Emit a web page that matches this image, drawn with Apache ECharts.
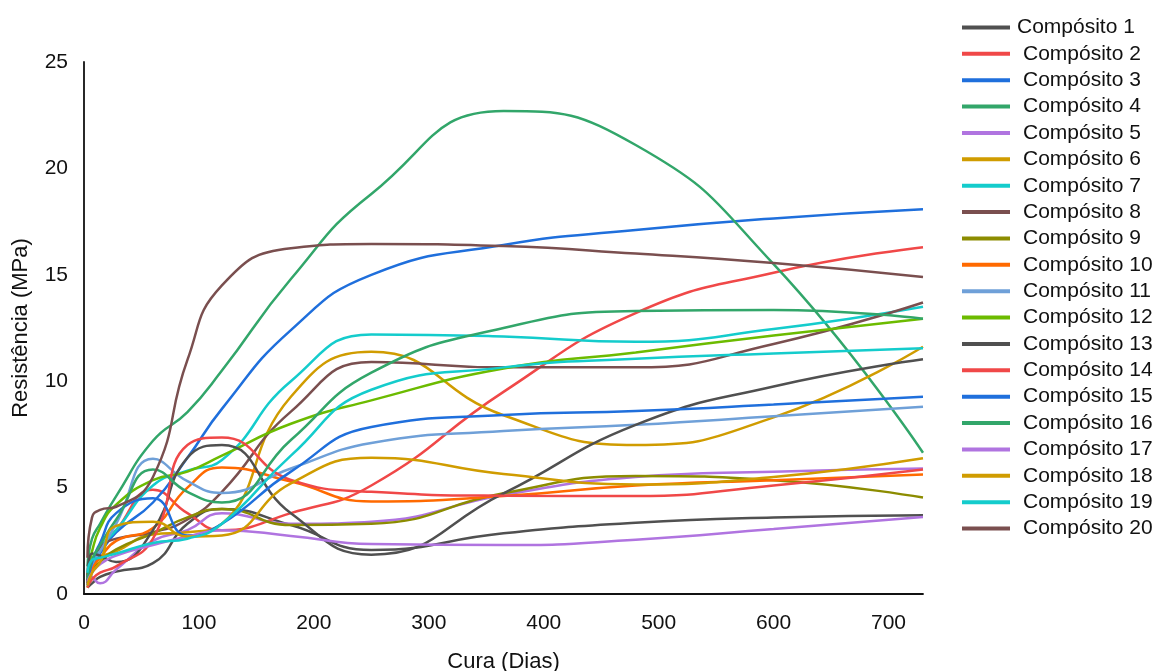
<!DOCTYPE html>
<html>
<head>
<meta charset="utf-8">
<script src="https://cdn.jsdelivr.net/npm/echarts@6/dist/echarts.min.js"></script>
<style>
  html, body { margin: 0; padding: 0; background: #ffffff; }
  #chart { width: 1157px; height: 671px; }
</style>
</head>
<body>
<div id="chart"></div>
<script>
// Curing ages (days)
const days = [3, 7, 14, 28, 60, 90, 120, 180, 250, 365, 480, 600, 730];

// Compressive strength (MPa) per composite
const comp1  = [0.3, 0.5, 0.8, 1.05, 1.45, 3.3, 4.0, 3.24, 2.07, 2.85, 3.35, 3.6, 3.7];
const comp2  = [0.6, 1.2, 2.0, 3.0, 4.9, 3.8, 3.0, 3.8, 5.1, 9.5, 13.2, 15.1, 16.3];
const comp3  = [0.5, 1.2, 1.9, 2.9, 4.3, 6.4, 8.7, 12.4, 15.0, 16.4, 17.1, 17.65, 18.08];
const comp4  = [1.3, 2.6, 3.3, 4.6, 7.2, 8.55, 10.5, 14.8, 18.8, 22.7, 21.1, 15.5, 6.64];
const comp5  = [1.0, 0.8, 0.5, 1.15, 2.5, 3.0, 3.8, 3.3, 3.4, 4.65, 5.5, 5.75, 5.9];
const comp6  = [0.3, 1.0, 1.7, 2.0, 2.8, 2.9, 3.3, 9.27, 11.38, 8.4, 7.0, 8.3, 11.62];
const comp7  = [0.8, 1.5, 2.2, 3.0, 5.1, 5.8, 6.3, 10.0, 12.2, 12.1, 11.85, 12.45, 13.5];
const comp8  = [0.6, 1.5, 2.2, 2.6, 2.9, 3.5, 4.8, 8.57, 10.9, 10.65, 10.65, 11.75, 13.7];
const comp9  = [0.5, 1.1, 1.5, 2.1, 2.85, 3.6, 4.0, 3.24, 3.3, 4.73, 5.55, 5.35, 4.53];
const comp10 = [0.5, 1.2, 1.7, 2.5, 3.1, 5.0, 5.95, 5.28, 4.35, 4.6, 5.1, 5.35, 5.62];
const comp11 = [0.8, 1.4, 2.0, 3.3, 6.35, 5.3, 4.75, 5.9, 7.1, 7.66, 7.95, 8.35, 8.8];
const comp12 = [0.9, 2.0, 3.1, 4.2, 5.35, 5.75, 6.5, 8.0, 9.1, 10.6, 11.35, 12.15, 12.94];
const comp13 = [0.6, 1.9, 1.8, 1.5, 3.0, 6.4, 7.0, 3.8, 1.85, 4.73, 7.95, 9.75, 11.03];
const comp14 = [0.3, 0.7, 1.0, 1.3, 2.6, 7.0, 7.35, 5.36, 4.8, 4.62, 4.6, 5.1, 5.85];
const comp15 = [0.4, 1.5, 2.4, 3.8, 4.5, 2.75, 3.3, 5.75, 7.85, 8.41, 8.6, 8.9, 9.27];
const comp16 = [0.7, 1.6, 2.3, 3.5, 5.85, 4.8, 4.3, 7.24, 10.4, 12.5, 13.3, 13.35, 12.94];
const comp17 = [0.6, 1.0, 1.4, 1.8, 2.3, 2.7, 3.0, 2.73, 2.35, 2.3, 2.55, 3.05, 3.62];
const comp18 = [0.4, 1.0, 1.5, 3.2, 3.4, 2.7, 2.75, 5.2, 6.4, 5.64, 5.15, 5.5, 6.38];
const comp19 = [1.0, 1.6, 1.7, 1.9, 2.4, 2.6, 3.3, 6.5, 9.6, 10.65, 11.05, 11.3, 11.55];
const comp20 = [1.7, 3.6, 3.95, 4.1, 5.5, 11.0, 14.5, 16.25, 16.45, 16.35, 16.0, 15.55, 14.9];

const seriesValues = [comp1, comp2, comp3, comp4, comp5, comp6, comp7, comp8, comp9, comp10,
                      comp11, comp12, comp13, comp14, comp15, comp16, comp17, comp18, comp19, comp20];
const seriesNames = seriesValues.map((_, i) => 'Compósito ' + (i + 1));

// Axis ticks
const yTicks = [0, 5, 10, 15, 20, 25];
const xTicks = [0, 100, 200, 300, 400, 500, 600, 700];

const palette = [
  '#505050', '#f04848', '#1f6fdc', '#32a66a', '#b074e0', '#d09c00',
  '#14cccc', '#7a4f4f', '#8c8c00', '#ff6a00', '#6fa0d8', '#6cbb00',
  '#505050', '#f04848', '#1f6fdc', '#32a66a', '#b074e0', '#d09c00',
  '#14cccc', '#7a4f4f'
];

const FONT = '"Liberation Sans", Arial, sans-serif';
const TEXT = '#111111';

const chart = echarts.init(document.getElementById('chart'), null, { renderer: 'canvas' });

const series = seriesValues.map((vals, i) => ({
  name: seriesNames[i],
  type: 'line',
  smooth: 0.5,
  showSymbol: false,
  symbol: 'none',
  data: days.map((d, k) => [d, vals[k]]),
  lineStyle: { width: 2.5, color: palette[i] },
  itemStyle: { color: palette[i] },
  emphasis: { disabled: true },
  z: 2
}));

// The first legend entry sits a little further left than the others
const legendData = seriesNames.map((n, i) =>
  i === 0 ? { name: n, textStyle: { padding: [0, 0, 0, 2] } } : n);

chart.setOption({
  animation: false,
  backgroundColor: '#ffffff',
  textStyle: { fontFamily: FONT, color: TEXT },
  grid: {
    left: 84, top: 62, width: 839, height: 532,
    containLabel: false,
    outerBoundsMode: 'none'
  },
  xAxis: {
    type: 'value',
    min: 0,
    max: 730,
    interval: 100,
    name: 'Cura (Dias)',
    nameLocation: 'middle',
    nameGap: 57,
    nameTextStyle: { fontSize: 22, color: TEXT, fontFamily: FONT },
    axisLine: { show: true, lineStyle: { color: '#111111', width: 1.8 } },
    axisTick: { show: false },
    splitLine: { show: false },
    axisLabel: {
      fontSize: 21, color: TEXT, fontFamily: FONT, margin: 19,
      showMaxLabel: false,
      formatter: v => (xTicks.indexOf(v) >= 0 ? String(v) : '')
    }
  },
  yAxis: {
    type: 'value',
    min: 0,
    max: 25,
    interval: 5,
    name: 'Resistência (MPa)',
    nameLocation: 'middle',
    nameGap: 52,
    nameTextStyle: { fontSize: 22, color: TEXT, fontFamily: FONT },
    axisLine: { show: true, lineStyle: { color: '#111111', width: 1.8 } },
    axisTick: { show: false },
    splitLine: { show: false },
    axisLabel: {
      fontSize: 21, color: TEXT, fontFamily: FONT, margin: 16,
      formatter: v => (yTicks.indexOf(v) >= 0 ? String(v) : '')
    }
  },
  legend: {
    orient: 'vertical',
    left: 962,
    top: 17,
    padding: 0,
    icon: 'rect',
    itemWidth: 48,
    itemHeight: 4,
    itemGap: 5.37,
    textStyle: { fontSize: 21, color: TEXT, fontFamily: FONT, lineHeight: 20, padding: [0, 0, 0, 8] },
    selectedMode: false,
    data: legendData
  },
  series: series
});
</script>
</body>
</html>
